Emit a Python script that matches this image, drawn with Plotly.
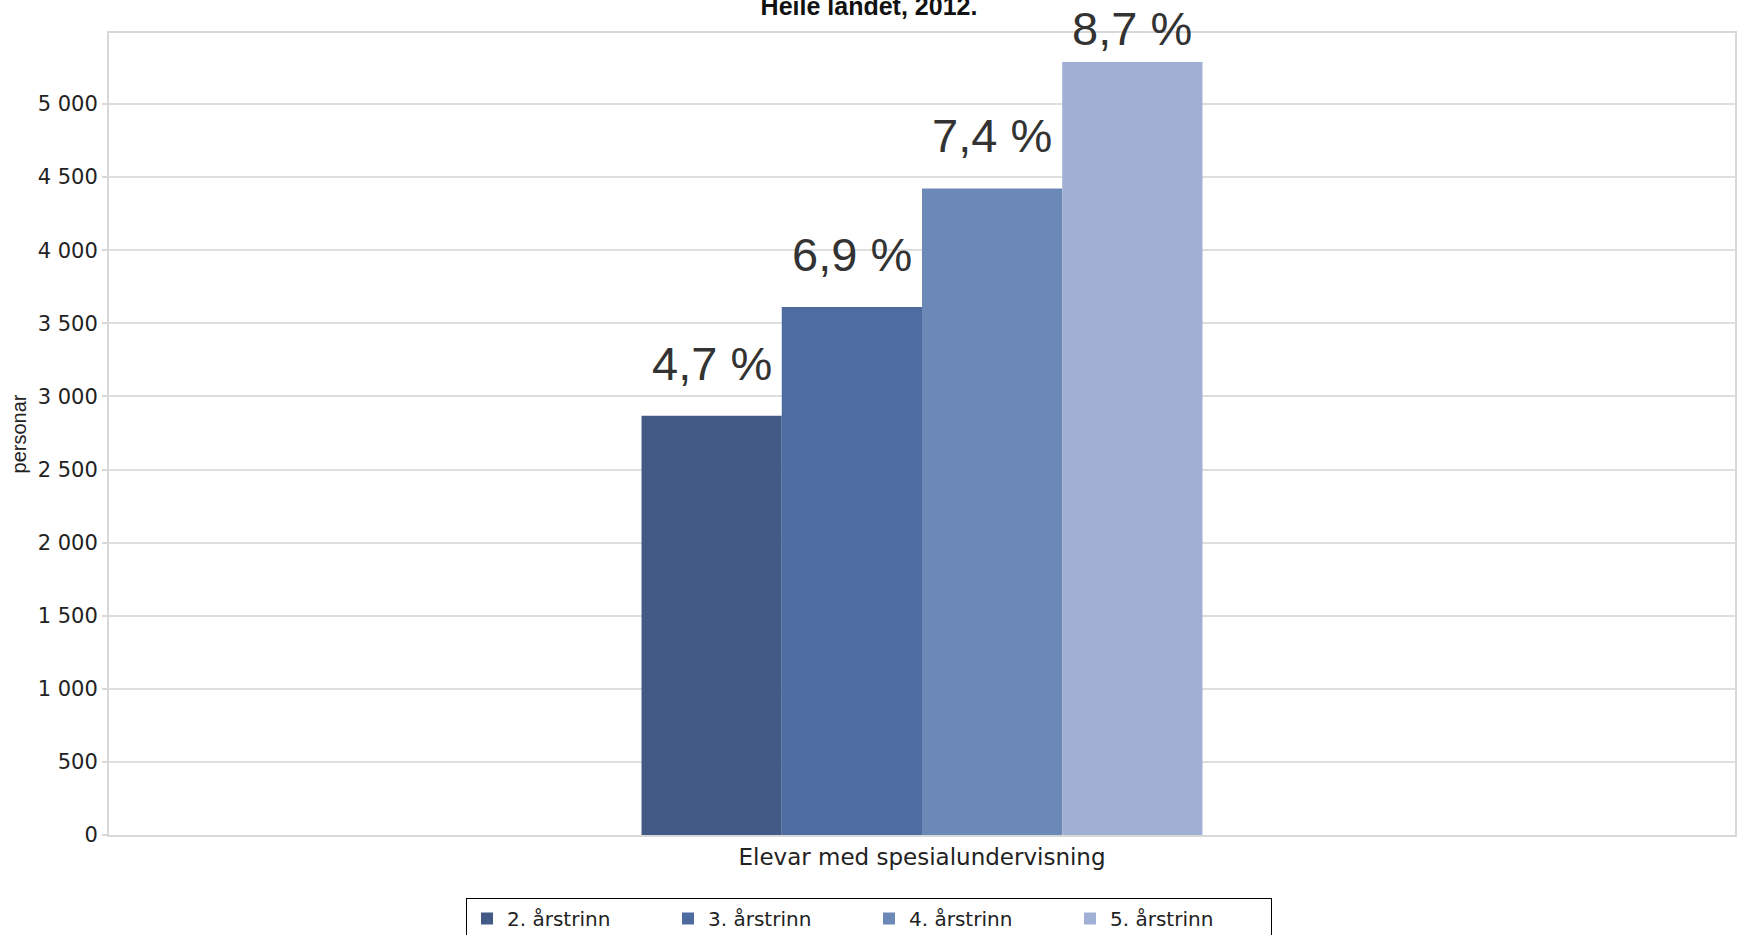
import plotly.graph_objects as go

category = ["Elevar med spesialundervisning"]
series_names = ["2. årstrinn", "3. årstrinn", "4. årstrinn", "5. årstrinn"]
series_values = [2868, 3612, 4423, 5288]
share_labels = ["4,7 %", "6,9 %", "7,4 %", "8,7 %"]
colors = ["#435a86", "#4f6ca1", "#6b88b6", "#9fb0d4"]
y_ticks = [0, 500, 1000, 1500, 2000, 2500, 3000, 3500, 4000, 4500, 5000]

y_max = 5486
bargap = 0.655
n = len(series_values)
bar_w = (1 - bargap) / n
label_ceiling = y_max - 330  # keep the top label inside the figure

fig = go.Figure()
for name, val, col in zip(series_names, series_values, colors):
    fig.add_trace(go.Bar(x=category, y=[val], name=name, marker=dict(color=col, line=dict(width=0))))

for i, (val, lab) in enumerate(zip(series_values, share_labels)):
    xc = -(1 - bargap) / 2 + (i + 0.5) * bar_w
    fig.add_annotation(x=xc, y=min(val, label_ceiling), xref="x", yref="y", text=lab, showarrow=False,
                       yanchor="bottom", yshift=24,
                       font=dict(family="Liberation Sans, Arial", size=47, color="#333333"))

fig.update_layout(
    width=1738, height=935,
    barmode="group", bargap=bargap, bargroupgap=0,
    separators=", ",
    paper_bgcolor="white", plot_bgcolor="white",
    margin=dict(l=109, r=3, t=33, b=100, autoexpand=False),
    title=dict(text="<b>Heile landet, 2012.</b>", x=0.5, xref="container", xanchor="center",
               y=1 - 6 / 935, yref="container", yanchor="middle", automargin=False,
               font=dict(family="Liberation Sans, Arial", size=25, color="#111111")),
    showlegend=True,
    legend=dict(orientation="h", xref="container", x=0.5, xanchor="center",
                yref="container", y=37 / 935, yanchor="top",
                bordercolor="#000000", borderwidth=1, bgcolor="white",
                entrywidth=156, entrywidthmode="pixels",
                font=dict(family="DejaVu Sans", size=20, color="#222222"),
                tracegroupgap=0, itemclick=False),
    xaxis=dict(showgrid=False, showline=True, linecolor="#d8d8d8", linewidth=2, mirror=True,
               ticks="", automargin=False,
               tickfont=dict(family="DejaVu Sans", size=23, color="#222222")),
    yaxis=dict(range=[0, y_max], tickvals=y_ticks, tickformat=",d", automargin=False,
               showgrid=True, gridcolor="#dedede", gridwidth=2,
               showline=True, linecolor="#d8d8d8", linewidth=2, mirror=True,
               ticks="outside", ticklen=5, tickcolor="#d8d8d8", tickwidth=2,
               zeroline=False,
               tickfont=dict(family="DejaVu Sans", size=21, color="#222222"),
               title=dict(text="personar", standoff=6,
                          font=dict(family="Liberation Sans, Arial", size=20, color="#222222"))),
)

fig.write_html("out.html", config={"displayModeBar": False},
               post_script="document.body.style.margin='0';")
